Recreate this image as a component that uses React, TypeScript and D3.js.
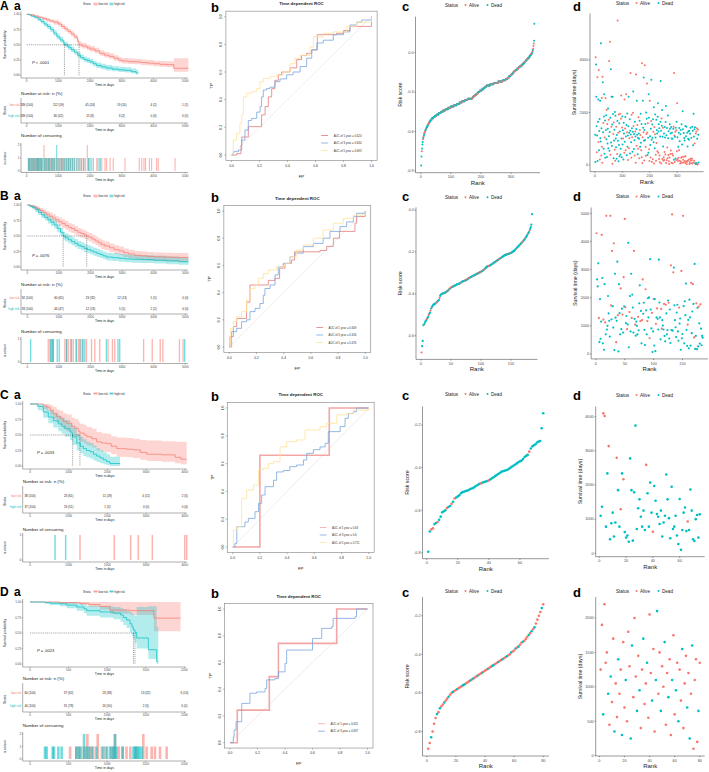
import React from "react";
import * as d3 from "d3";

const RED = "#F8766D";
const TEAL = "#00BFC4";
const FONT = "'Liberation Sans', Arial, Helvetica, sans-serif";

// ================= KM data =================
// Row A
const kmA_low_t = [0,120,250,380,500,620,730,850,1000,1100,1200,1300,1400,1500,1600,1650,1750,1900,2000,2150,2300,2450,2600,2750,2900,3000,3200,3400,3600,3800,4000,4200,4400,4640,5100];
const kmA_low_s = [1,.99,.97,.95,.93,.91,.89,.87,.84,.80,.76,.72,.68,.63,.56,.50,.48,.45,.43,.40,.36,.33,.31,.28,.25,.235,.225,.22,.21,.20,.19,.18,.175,.115,.115];
const kmA_low_lo = [1,.98,.95,.93,.9,.88,.86,.83,.8,.76,.72,.68,.64,.59,.52,.46,.44,.41,.39,.36,.32,.29,.27,.24,.21,.195,.185,.18,.17,.16,.15,.14,.13,.06,.06];
const kmA_low_hi = [1,1,.99,.97,.96,.94,.92,.91,.88,.84,.8,.76,.72,.67,.6,.55,.53,.5,.48,.45,.41,.38,.36,.33,.3,.285,.275,.27,.26,.25,.24,.235,.23,.28,.28];
const kmA_high_t = [0,80,150,250,350,450,550,650,750,850,950,1050,1150,1200,1300,1400,1500,1600,1700,1800,1900,2000,2100,2200,2350,2500,2700,2900,3100,3300,3450,3520];
const kmA_high_s = [1,.99,.97,.95,.92,.88,.84,.80,.75,.69,.63,.58,.53,.50,.46,.42,.38,.33,.29,.26,.24,.22,.19,.16,.14,.12,.10,.09,.08,.06,.04,.04];
const kmA_high_lo = [1,.98,.95,.93,.89,.85,.8,.76,.71,.65,.59,.54,.49,.46,.42,.38,.34,.29,.25,.22,.2,.18,.15,.12,.1,.08,.065,.055,.045,.03,.015,.015];
const kmA_high_hi = [1,1,.99,.97,.95,.92,.88,.84,.79,.74,.68,.63,.58,.55,.51,.47,.43,.38,.34,.31,.29,.27,.24,.21,.19,.17,.15,.14,.13,.11,.09,.09];
const kmA_medians = [1190, 1650];
const kmA_ticks = [0,1000,2000,3000,4000,5000];
const tabA_low = ["189 (100)","112 (59)","45 (24)","19 (10)","4 (2)","1 (1)"];
const tabA_high = ["189 (100)","80 (42)","15 (8)","3 (2)","0 (0)","0 (0)"];
const censA_low = [60,90,130,170,200,240,270,300,330,350,380,420,450,480,545,545,580,620,650,690,720,760,800,840,870,900,950,990,1030,1080,1120,1150,1200,1240,1280,1320,1360,1400,1450,1500,1560,1620,1680,1740,1800,1850,1912,1912,1960,2050,2210,2310,2370,2470,2520,2630,2730,3100,3550,3630,3700,3750,3870,3940,4100,4150,4680];
const censA_high = [50,80,110,150,190,220,260,300,340,370,400,440,470,510,560,600,640,690,730,780,820,870,946,946,990,1050,1100,1150,1200,1260,1320,1380,1440,1500,1580,1650,1720,1800,1950,2000,2100,2250,2320];

// Row B
const kmB_low_t = [0,100,200,300,400,500,600,700,800,900,1000,1100,1200,1300,1400,1500,1600,1700,1800,1880,1950,2050,2150,2250,2350,2450,2600,2750,2900,3050,3200,3400,3600,3800,4000,4300,4600,5100];
const kmB_low_s = [1,.99,.97,.94,.91,.88,.85,.82,.79,.76,.73,.70,.67,.64,.62,.59,.56,.54,.52,.50,.48,.45,.42,.39,.36,.34,.31,.28,.26,.23,.21,.19,.18,.17,.165,.16,.155,.155];
const kmB_low_lo = [1,.97,.94,.9,.87,.83,.8,.76,.73,.7,.66,.63,.6,.57,.55,.52,.49,.47,.45,.43,.41,.38,.35,.32,.29,.27,.24,.21,.19,.16,.14,.12,.11,.1,.095,.09,.085,.085];
const kmB_low_hi = [1,1,.99,.97,.95,.93,.9,.88,.85,.82,.8,.77,.74,.71,.69,.66,.63,.61,.59,.57,.55,.52,.49,.46,.43,.41,.38,.35,.33,.3,.28,.26,.25,.24,.235,.23,.225,.225];
const kmB_high_t = [0,80,160,250,350,450,550,650,750,850,950,1050,1135,1200,1300,1400,1500,1600,1700,1800,1900,2000,2100,2200,2300,2400,2500,2700,2900,3100,3300,3600,4000,4400,4800,5100];
const kmB_high_s = [1,.98,.96,.93,.88,.84,.80,.76,.72,.68,.62,.56,.50,.47,.44,.41,.38,.35,.33,.30,.28,.26,.24,.22,.20,.18,.16,.15,.14,.13,.125,.12,.11,.10,.085,.085];
const kmB_high_lo = [1,.96,.93,.89,.84,.79,.75,.7,.66,.62,.56,.5,.44,.41,.38,.35,.32,.29,.27,.24,.22,.2,.18,.16,.145,.125,.105,.095,.085,.075,.07,.065,.055,.045,.035,.035];
const kmB_high_hi = [1,1,.99,.97,.93,.89,.86,.82,.78,.75,.69,.63,.57,.54,.51,.48,.45,.42,.4,.37,.35,.33,.31,.29,.27,.25,.23,.22,.21,.2,.195,.19,.18,.17,.155,.155];
const kmB_medians = [1135, 1880];
const kmB_ticks = [0,1000,2000,3000,4000,5000];
const tabB_low = ["92 (100)","60 (65)","29 (32)","12 (13)","5 (5)","0 (0)"];
const tabB_high = ["93 (100)","44 (47)","12 (13)","5 (5)","2 (2)","0 (0)"];
const censB_low = [663,716,769,822,1189,1242,1295,1369,1453,1537,1621,1694,1768,1873,2031,2136,2293,2556,2693,2767,3681,3954,4206,4290,4815,4930];
const censB_high = [106,737,790,822,947,1010,1242,1400,1558,1663,1747,1821,2503,2871,2924,4980];

// Row C
const kmC_low_t = [0,350,430,520,600,690,780,860,950,1080,1160,1250,1290,1400,1470,1600,1720,1850,1980,2100,2240,2500,2670,2850,3015,3400,3750,3900,4050];
const kmC_low_s = [1,.97,.95,.90,.85,.80,.77,.72,.69,.64,.61,.56,.53,.50,.47,.44,.39,.37,.36,.32,.28,.27,.26,.22,.19,.18,.14,.11,.11];
const kmC_low_lo = [1,.92,.89,.82,.76,.7,.66,.6,.56,.51,.47,.42,.39,.36,.33,.3,.25,.23,.22,.19,.15,.14,.13,.1,.08,.07,.045,.03,.03];
const kmC_low_hi = [1,1,1,.98,.95,.91,.89,.85,.83,.78,.76,.71,.68,.66,.63,.6,.55,.53,.52,.48,.46,.45,.44,.42,.41,.4,.39,.39,.39];
const kmC_high_t = [0,200,344,473,603,732,820,904,1033,1085,1102,1206,1300,1378,1460,1550,1640,1722,1810,1895,1980,2067,2325];
const kmC_high_s = [1,.96,.87,.79,.73,.68,.64,.60,.55,.52,.47,.37,.32,.28,.25,.23,.19,.16,.13,.10,.07,.04,.04];
const kmC_high_lo = [1,.9,.78,.69,.62,.56,.52,.47,.42,.39,.34,.25,.2,.16,.14,.12,.09,.065,.045,.03,.015,0,0];
const kmC_high_hi = [1,1,.96,.9,.85,.81,.77,.74,.69,.66,.62,.52,.47,.43,.39,.37,.33,.29,.26,.22,.19,.15,.15];
const kmC_medians = [1102, 1290];
const kmC_ticks = [0,1000,2000,3000,4000];
const tabC_low = ["38 (100)","23 (61)","11 (29)","4 (11)","2 (5)"];
const tabC_high = ["37 (100)","19 (51)","1 (3)","0 (0)","0 (0)"];
const censC_low = [1292,2179,2601,2799,3161,4000,4050];
const censC_high = [646,922];

// Row D
const kmD_low_t = [0,390,650,760,907,1036,1300,1606,1950];
const kmD_low_s = [1,.99,.98,.96,.93,.87,.86,.74,.74];
const kmD_low_lo = [1,.97,.95,.92,.88,.81,.79,.53,.53];
const kmD_low_hi = [1,1,1,1,1,1,1,1,1];
const kmD_high_t = [0,194,259,389,475,604,700,734,907,1080,1174,1209,1250,1295,1320,1338,1360,1382,1533,1641,1662];
const kmD_high_s = [1,.99,.98,.97,.95,.92,.89,.86,.84,.82,.79,.75,.71,.65,.60,.55,.51,.42,.23,.04,.04];
const kmD_high_lo = [1,.97,.95,.93,.9,.86,.82,.78,.75,.72,.68,.63,.58,.51,.45,.4,.34,.25,.08,0,0];
const kmD_high_hi = [1,1,1,1,1,.98,.96,.94,.93,.92,.9,.88,.86,.84,.82,.8,.78,.92,.93,.6,.6];
const kmD_medians = [1340, 1360];
const kmD_ticks = [0,500,1000,1500,2000];
const tabD_low = ["60 (100)","37 (62)","23 (38)","13 (22)","6 (10)"];
const tabD_high = ["40 (100)","31 (78)","20 (50)","2 (5)","0 (0)"];
const censD_low = [520,600,640,700,743,743,780,820,877,877,930,980,1040,1080,1101,1101,1150,1200,1250,1300,1370,1468,1468,1511,1576,1619,1684,1770];
const censD_high = [194,216,294,311,367,410,600,630,660,700,700,730,760,800,860,950,1000,1050,1080,1101,1101,1120,1200,1340,1360,1380,1400,1420,1450];

const pTexts = ["< .0001", "= .0076", "= .0033", "= .0023"];

// ================= ROC data =================
const rocA_1 = [[0,0],[.037,.01],[.068,.07],[.073,.13],[.108,.13],[.12,.205],[.2,.205],[.215,.29],[.24,.35],[.263,.42],[.287,.48],[.31,.54],[.334,.58],[.358,.6],[.418,.63],[.466,.69],[.5,.72],[.537,.735],[.573,.76],[.613,.87],[.68,.87],[.75,.88],[.8,.9],[.846,.93],[.96,.93],[1,1]];
const rocA_3 = [[0,0],[.013,.024],[.05,.036],[.073,.108],[.096,.18],[.12,.25],[.144,.265],[.18,.31],[.204,.35],[.215,.42],[.227,.47],[.25,.48],[.275,.49],[.31,.53],[.346,.55],[.394,.58],[.44,.6],[.49,.64],[.537,.7],[.573,.76],[.61,.81],[.656,.83],[.727,.87],[.8,.89],[.846,.94],[.894,.96],[.93,.976],[1,1]];
const rocA_5 = [[0,0],[.013,.108],[.037,.157],[.06,.23],[.073,.29],[.085,.42],[.108,.446],[.144,.458],[.18,.48],[.204,.53],[.227,.554],[.275,.566],[.322,.578],[.37,.6],[.418,.66],[.454,.7],[.49,.72],[.56,.78],[.585,.855],[.656,.88],[.727,.89],[.82,.93],[.894,.96],[1,1]];
const rocB_1 = [[0,0],[.005,.076],[.03,.15],[.054,.21],[.1,.21],[.127,.33],[.152,.456],[.262,.456],[.287,.49],[.336,.505],[.37,.58],[.41,.615],[.458,.64],[.48,.7],[.556,.7],[.667,.71],[.716,.74],[.765,.8],[.81,.85],[.863,.85],[.924,.91],[.936,.96],[1,1]];
const rocB_3 = [[0,0],[.017,.113],[.054,.137],[.09,.186],[.127,.2],[.152,.26],[.189,.284],[.225,.32],[.25,.38],[.262,.43],[.3,.456],[.336,.53],[.36,.59],[.397,.615],[.446,.664],[.483,.69],[.544,.738],[.618,.762],[.69,.8],[.74,.85],[.814,.885],[.863,.92],[.912,.958],[.936,.983],[1,1]];
const rocB_5 = [[0,0],[.01,.137],[.03,.186],[.054,.223],[.09,.26],[.127,.345],[.152,.43],[.189,.456],[.213,.505],[.25,.54],[.287,.566],[.348,.59],[.41,.615],[.446,.664],[.495,.713],[.544,.75],[.618,.8],[.69,.86],[.765,.91],[.838,.946],[.912,.97],[1,1]];
const rocC_1 = [[0,0],[.2,.66],[.71,1],[1,1]];
const rocC_3 = [[0,0],[.017,.026],[.03,.146],[.078,.146],[.09,.18],[.115,.206],[.152,.206],[.164,.254],[.19,.314],[.213,.374],[.238,.434],[.275,.434],[.3,.48],[.323,.54],[.372,.55],[.42,.578],[.47,.59],[.52,.626],[.544,.674],[.593,.7],[.642,.72],[.68,.746],[.703,.83],[.79,.866],[.826,.926],[.85,.96],[.887,.974],[.91,1],[1,1]];
const rocC_5 = [[0,0],[.005,.122],[.03,.146],[.066,.35],[.103,.41],[.127,.41],[.152,.446],[.19,.554],[.225,.566],[.262,.6],[.3,.614],[.348,.72],[.397,.758],[.47,.77],[.532,.842],[.642,.866],[.69,.89],[.765,.95],[.838,.96],[.887,.985],[1,1]];
const rocD_1 = [[0,0],[.053,.244],[.286,.494],[.352,.743],[.776,1],[1,1]];
const rocD_3 = [[0,0],[.024,.045],[.03,.095],[.044,.157],[.073,.157],[.085,.294],[.133,.294],[.145,.37],[.194,.38],[.255,.406],[.267,.47],[.327,.48],[.352,.53],[.388,.53],[.4,.593],[.412,.693],[.594,.693],[.6,.78],[.655,.78],[.667,.855],[.74,.868],[.75,.93],[.91,.943],[.92,1],[1,1]];
const aucA = ["AUC of 1 year = 0.624","AUC of 3 year = 0.634","AUC of 5 year = 0.693"];
const aucB = ["AUC of 1 year = 0.609","AUC of 3 year = 0.616","AUC of 5 year = 0.676"];
const aucC = ["AUC of 1 year = 0.63","AUC of 3 year = 0.6","AUC of 5 year = 0.711"];
const aucD = ["AUC of 1 year = 0.621","AUC of 3 year = 0.637"];
const rocTicks = [0,.2,.4,.6,.8,1];

// ================= Risk score / survival time data =================
const riskA = [-.86,-.79,-.75,-.73,-.70,-.68,-.66,-.65,-.64,-.63,
-.62,-.61,-.61,-.60,-.59,-.59,-.58,-.58,-.57,-.57,
-.56,-.56,-.55,-.55,-.54,-.54,-.54,-.53,-.53,-.52,
-.52,-.52,-.51,-.51,-.51,-.51,-.50,-.50,-.50,-.50,
-.50,-.49,-.49,-.49,-.49,-.49,-.48,-.48,-.48,-.48,
-.48,-.48,-.47,-.47,-.47,-.47,-.47,-.47,-.47,-.46,
-.46,-.46,-.46,-.46,-.46,-.46,-.45,-.45,-.45,-.45,
-.45,-.45,-.45,-.44,-.44,-.44,-.44,-.44,-.44,-.44,
-.44,-.43,-.43,-.43,-.43,-.43,-.43,-.43,-.43,-.43,
-.42,-.42,-.42,-.42,-.42,-.42,-.42,-.42,-.42,-.41,
-.41,-.41,-.41,-.41,-.41,-.41,-.41,-.41,-.41,-.40,
-.40,-.40,-.40,-.40,-.40,-.40,-.40,-.40,-.40,-.39,
-.39,-.39,-.39,-.39,-.39,-.39,-.39,-.39,-.38,-.38,
-.38,-.38,-.38,-.38,-.38,-.38,-.37,-.37,-.37,-.37,
-.37,-.37,-.37,-.37,-.37,-.37,-.36,-.36,-.36,-.36,
-.36,-.36,-.36,-.36,-.36,-.35,-.35,-.35,-.35,-.35,
-.35,-.35,-.35,-.35,-.35,-.35,-.35,-.35,-.35,-.35,
-.35,-.34,-.34,-.34,-.34,-.33,-.33,-.33,-.33,-.33,
-.32,-.32,-.32,-.32,-.32,-.31,-.31,-.31,-.31,-.31,
-.30,-.30,-.30,-.30,-.30,-.29,-.29,-.29,-.29,-.29,
-.29,-.28,-.28,-.28,-.28,-.28,-.28,-.27,-.27,-.27,
-.27,-.27,-.26,-.26,-.26,-.26,-.26,-.26,-.25,-.25,
-.25,-.25,-.25,-.25,-.25,-.25,-.25,-.25,-.25,-.25,
-.24,-.24,-.24,-.24,-.24,-.24,-.24,-.24,-.24,-.24,
-.24,-.24,-.23,-.23,-.23,-.23,-.23,-.23,-.23,-.23,
-.23,-.23,-.23,-.23,-.23,-.23,-.23,-.22,-.22,-.22,
-.22,-.22,-.22,-.22,-.22,-.22,-.22,-.22,-.22,-.22,
-.22,-.22,-.21,-.21,-.21,-.21,-.21,-.21,-.21,-.21,
-.21,-.21,-.20,-.20,-.20,-.20,-.20,-.20,-.19,-.19,
-.19,-.19,-.19,-.18,-.18,-.18,-.18,-.18,-.17,-.17,
-.17,-.17,-.16,-.16,-.16,-.16,-.15,-.15,-.15,-.15,
-.14,-.14,-.14,-.14,-.14,-.13,-.13,-.13,-.13,-.13,
-.12,-.12,-.12,-.12,-.12,-.11,-.11,-.11,-.11,-.11,
-.10,-.10,-.10,-.10,-.10,-.10,-.09,-.09,-.09,-.09,
-.08,-.08,-.08,-.08,-.07,-.07,-.07,-.07,-.06,-.06,
-.06,-.06,-.05,-.05,-.05,-.05,-.04,-.04,-.04,-.04,
-.03,-.03,-.03,-.02,-.02,-.02,-.01,-.01,-.01,.00,
.00,.01,.02,.03,.05,.07,.09,.22];
const timeA = [1150,120,4100,3830,2600,1480,490,1120,3340,150,
1650,2500,880,3620,560,1300,1750,210,2450,1020,
900,4640,360,1400,2550,700,90,3360,3150,1250,
1600,620,1850,2700,430,1050,1700,280,2550,1330,
1900,980,2100,310,1560,820,1380,2150,640,1720,
1100,3960,540,1260,4690,1800,390,3650,860,1460,
2600,720,1540,50,2600,1940,1180,260,1620,930,
1340,580,2020,160,1880,1010,680,1460,240,1140,
420,1680,5500,920,1230,140,1920,760,1590,330,
1280,1950,400,620,1760,2650,1010,300,1430,1850,
780,1320,1010,210,1610,1200,470,2500,890,1390,
1830,560,1090,2700,1520,370,1250,1960,700,1120,
190,1480,2600,640,1230,1020,1740,440,1310,3500,
1160,870,280,1910,1400,1060,510,1270,1990,2800,
1490,610,1180,940,360,1650,1280,1090,90,3450,
1370,730,2450,1150,1520,410,1040,620,1820,1200,
1000,260,1690,1330,700,1140,1950,850,560,1560,
300,3880,80,1060,2450,1420,1250,3330,920,170,
1330,3800,950,1560,690,350,2000,1180,1760,3100,
1240,380,1590,1040,470,2700,1800,600,150,2450,
1100,760,290,1380,1680,3250,960,120,1540,1040,
220,1740,1270,870,2200,60,1450,640,1170,1920,
1050,390,160,1720,840,1330,1200,520,1840,2350,
470,1280,1550,230,1400,360,110,1090,1650,3200,
1310,60,1770,1500,2100,230,1080,1420,710,160,
300,1200,190,500,1450,1050,400,1640,2250,80,
1130,180,1410,670,260,1890,1020,380,1290,140,
40,290,1550,1380,420,1200,550,1450,90,1010,
1230,430,1000,70,360,1380,1460,200,3500,1120,
120,1080,1270,250,1420,190,1320,1650,520,2350,
1060,230,150,700,280,1230,560,1410,910,160,
60,1170,1330,120,280,1550,90,780,320,2050,
1360,200,100,1220,320,1030,930,150,80,1490,
330,1100,140,1460,30,120,1230,710,160,1000,
1280,200,960,1310,40,120,1190,240,1420,180,
70,1040,180,250,1460,60,1310,750,100,1950,
1090,160,1360,820,1440,60,90,1200,30,1280,
70,1400,1000,40,20,1350,1150,100];
const statusA = ("DDADDDADAD DDAADDDADD DDADAAAADD ADDDDADDAD DDADADDDDA DADDADADDA DDDADDADAD DADADDDADD ADADADADDD DADDAADDAD " +
"DDADDDAADA DADADDADDD ADDADADDDA DDAADADDAD ADDDADADAA DADDADDAAD DADADADDAD AAAADDADDA DADDAADADA ADADDDDAAA " +
"DDADADDADD ADADDAADAD DAADADDADD ADDADAADDD DAADDADADA ADAADDADDA DADAADDADA AADDADADAD DADAADADAA ADADDAADAA " +
"DAADADADDA ADDAADADAD DAADADDAAD ADADAADDAD DADDAADADA ADAADADDAD DADADDAADA DADAAADD").replace(/ /g, "");

const riskB = [-.68,-.65,-.625,-.55,-.547,-.543,-.535,-.53,-.525,-.52,
-.515,-.51,-.5,-.495,-.49,-.48,-.47,-.465,-.46,-.455,
-.452,-.45,-.448,-.446,-.444,-.441,-.438,-.435,-.432,-.43,
-.42,-.41,-.405,-.402,-.4,-.399,-.398,-.397,-.396,-.395,
-.393,-.391,-.389,-.387,-.385,-.382,-.379,-.376,-.373,-.37,
-.369,-.367,-.366,-.364,-.363,-.361,-.36,-.358,-.357,-.355,
-.354,-.353,-.352,-.351,-.35,-.348,-.346,-.344,-.342,-.34,
-.339,-.338,-.337,-.336,-.335,-.333,-.331,-.329,-.327,-.325,
-.324,-.322,-.32,-.319,-.317,-.316,-.314,-.313,-.311,-.31,
-.308,-.307,-.305,-.304,-.302,-.301,-.299,-.298,-.296,-.295,
-.293,-.291,-.289,-.287,-.285,-.282,-.279,-.276,-.273,-.27,
-.269,-.268,-.267,-.266,-.265,-.263,-.261,-.259,-.257,-.255,
-.253,-.251,-.249,-.247,-.245,-.243,-.241,-.239,-.237,-.235,
-.233,-.231,-.229,-.227,-.225,-.223,-.221,-.219,-.217,-.215,
-.214,-.213,-.212,-.211,-.21,-.209,-.208,-.207,-.206,-.205,
-.203,-.201,-.199,-.197,-.195,-.192,-.189,-.186,-.183,-.18,
-.177,-.174,-.171,-.168,-.165,-.162,-.159,-.156,-.153,-.15,
-.146,-.142,-.138,-.134,-.13,-.125,-.12,-.115,-.11,-.105,
-.098,-.09,-.082,-.07,-.02];
const timeB = [4290,2650,2400,3220,1280,430,1950,540,1150,4230,
2700,380,1220,150,2480,1120,700,4910,870,1000,
2060,1440,1180,620,4910,1730,1230,3660,1700,940,
3930,140,2850,1290,420,1180,3280,1380,90,2480,
1450,700,2330,880,1610,1400,760,2730,1690,4800,
1660,1100,1350,880,1050,3950,240,1490,2060,800,
2850,1280,2110,1650,760,3660,1250,1040,650,1150,
1000,700,1320,840,1800,2440,1170,1530,380,1200,
2650,1430,1820,860,320,2300,1550,700,1170,1980,
1300,2010,560,3370,1580,910,1460,70,800,1950,
300,1950,100,1070,1300,1620,1250,870,3350,1830,
1300,520,1600,900,1200,1010,870,1780,640,450,
1750,1440,700,850,1900,1820,550,1580,390,3150,
850,4960,830,2900,3070,1730,1200,950,600,1470,
1750,800,470,1650,1080,1260,150,2950,560,710,
4910,1700,380,1870,1380,2500,860,290,1040,1210,
200,1930,1300,300,2530,740,1510,2480,1780,590,
3200,180,640,1800,170,1640,270,1680,1090,370,
1760,900,310,640,580];
const statusB = ("ADDDADDDDA DDADDADADD DDDDAADADD ADDDADDADD DDADDADADA ADDADDDADD DADDDADADD DDADDDADDA ADDDDADDAD DDADDDADDA " +
"DDDADADDDD DDAADDDADD ADDDDADDDA DADADDDDDD DDDADDDADD ADDDDDDDAD DDDDADDADA DDDADDDADD ADDDD").replace(/ /g, "");

const riskC = [-.795,-.70,-.69,-.685,-.665,-.66,-.655,-.645,-.63,-.61,
-.605,-.60,-.59,-.585,-.58,-.57,-.56,-.545,-.54,-.535,
-.53,-.52,-.515,-.513,-.51,-.508,-.505,-.50,-.498,-.495,
-.49,-.485,-.48,-.476,-.474,-.47,-.468,-.465,-.463,-.46,
-.455,-.45,-.445,-.44,-.435,-.43,-.425,-.42,-.417,-.415,
-.412,-.41,-.405,-.40,-.395,-.39,-.385,-.38,-.375,-.37,
-.367,-.36,-.35,-.345,-.34,-.325,-.31,-.30,-.295,-.29,
-.282,-.278,-.275,-.215,-.145];
const timeC = [1100,1365,4100,4020,780,2340,3140,410,880,1190,
490,900,2800,1850,780,1290,2340,2170,620,460,
520,340,2780,1850,370,1790,3740,710,1320,1580,
1070,780,1250,680,2590,1760,780,2070,1190,630,
1970,1540,1150,1070,860,1250,490,900,1100,2310,
1580,1030,440,1950,710,780,1100,520,270,1590,
100,680,1190,1340,650,930,680,1870,1250,410,
360,1000,1120,460,1140];
const statusC = ("DDAADDADDD DDADDADADD DDDDDDDDDD DDDDADDDDA DDDDDDDDDD DDDDDDDDDD DDDDDADDDD DDDDD").replace(/ /g, "");

const riskD = [-.89,-.86,-.83,-.80,-.76,-.73,-.71,-.70,-.68,-.67,
-.66,-.65,-.64,-.63,-.62,-.61,-.60,-.595,-.59,-.585,
-.58,-.575,-.57,-.565,-.56,-.555,-.55,-.545,-.54,-.535,
-.53,-.525,-.52,-.515,-.51,-.505,-.50,-.495,-.49,-.485,
-.48,-.475,-.47,-.465,-.46,-.455,-.45,-.445,-.44,-.435,
-.43,-.425,-.42,-.415,-.41,-.405,-.40,-.39,-.385,-.38,
-.37,-.365,-.36,-.35,-.34,-.335,-.33,-.32,-.31,-.30,
-.29,-.28,-.27,-.26,-.24,-.22,-.20,-.18,-.16,-.14];
const timeD = [1250,1900,600,2200,1350,1500,900,450,1150,780,
1700,350,1050,560,1400,900,1250,300,1650,700,
1100,500,1800,1300,250,1600,850,2000,1150,650,
1450,950,400,1250,1700,750,1050,1350,550,2050,
1200,800,1550,350,1100,2100,900,1500,650,1300,
1000,1650,450,1200,850,1400,300,1100,1750,600,
950,1350,500,1250,800,1550,400,1050,1450,700,
1200,250,900,1600,100,1100,1400,200,650,1350];
const statusD = ("AADAAADADA ADAADAADAA DAAADDAAAD ADAADAADAA ADAADDAADA ADAADAADAA DADAADAAAD ADADAAAADA").replace(/ /g, "");

const riskTicksA = [0, -0.3, -0.6, -0.9];
const riskTicksB = [0, -0.2, -0.4, -0.6];
const riskTicksC = [-0.2, -0.4, -0.6, -0.8];
const riskTicksD = [-0.2, -0.4, -0.6, -0.8];
const rankTicksA = [0, 100, 200, 300];
const rankTicksB = [0, 50, 100, 150];
const rankTicksC = [0, 20, 40, 60];
const rankTicksD = [0, 20, 40, 60, 80];
const timeTicksA = [0, 2000, 4000];
const timeTicksB = [0, 1000, 2000, 3000, 4000, 5000];
const timeTicksC = [0, 1000, 2000, 3000, 4000];
const timeTicksD = [0, 500, 1000, 1500, 2000];

// ================= Layouts =================
const kmLayouts = [
  { tStep: 1000, x0: 26.7, pxStep: 31.7, left: 21, right: 188, y1: 14.3, y0: 75.3, axisY: 78, legendY: 4, pX: 32, pY: 64, tabTitle: 95, low: 105, high: 116, tabAxis: 123, censTitle: 137, cTop: 145, c0: 171, censAxis: 172.5, cMax: 2, bw: 1.1 },
  { tStep: 1000, x0: 27.3, pxStep: 31.6, left: 21, right: 188, y1: 205, y0: 267, axisY: 270, legendY: 196, pX: 32, pY: 256.5, tabTitle: 286, low: 298, high: 309, tabAxis: 314, censTitle: 333, cTop: 339, c0: 362, censAxis: 363.5, cMax: 1, bw: 1.3 },
  { tStep: 1000, x0: 30, pxStep: 38.7, left: 22.7, right: 187, y1: 404, y0: 466, axisY: 469, legendY: 393.5, pX: 37, pY: 453.5, tabTitle: 483, low: 496, high: 507, tabAxis: 513, censTitle: 531, cTop: 535, c0: 560, censAxis: 562, cMax: 1, bw: 1.5 },
  { tStep: 500, x0: 30, pxStep: 38.6, left: 22.7, right: 186, y1: 602, y0: 664, axisY: 667, legendY: 591.5, pX: 37, pY: 651.5, tabTitle: 680, low: 693, high: 706, tabAxis: 712, censTitle: 727, cTop: 734, c0: 759, censAxis: 761, cMax: 2, bw: 2.6 },
];
const rocLayouts = [
  { x0: 231.5, W: 140, y0: 155, H: 138.3 },
  { x0: 229.3, W: 136, y0: 347, H: 136 },
  { x0: 232.7, W: 136, y0: 547, H: 139 },
  { x0: 230, W: 137.5, y0: 742.7, H: 133.7 },
];
const cLayouts = [
  { left: 415.5, right: 540, top: 16.7, bottom: 172.7, leg: 6.5, r: 1.0 },
  { left: 416, right: 537.5, top: 207.3, bottom: 359.4, leg: 198.8, r: 1.1 },
  { left: 422.5, right: 549, top: 406.4, bottom: 558.7, leg: 395.5, r: 1.3 },
  { left: 422.5, right: 549, top: 597, bottom: 756, leg: 592.5, r: 1.3 },
];
const dLayouts = [
  { left: 590, right: 703.7, top: 13.4, bottom: 171.7, leg: 4.5, r: 1.0 },
  { left: 591.2, right: 708, top: 207.5, bottom: 358.9, leg: 198, r: 1.1 },
  { left: 595.7, right: 704.7, top: 406.5, bottom: 556.7, leg: 396.5, r: 1.3 },
  { left: 595.7, right: 704.7, top: 597, bottom: 756, leg: 592.5, r: 1.3 },
];
const letterBase = [12, 202, 401, 598];

// ================= Components =================
function KMPanel({ L, d }: any) {
  const x = d3.scaleLinear().domain([0, L.tStep]).range([L.x0, L.x0 + L.pxStep]);
  const y = d3.scaleLinear().domain([0, 1]).range([L.y0, L.y1]);
  const line = (t: number[], s: number[]) =>
    d3.line<number>().x((_, i) => x(t[i])).y((v) => y(v)).curve(d3.curveStepAfter)(s) || "";
  const area = (t: number[], lo: number[], hi: number[]) =>
    d3.area<number>().x((_, i) => x(t[i])).y0((_, i) => y(lo[i])).y1((_, i) => y(hi[i])).curve(d3.curveStepAfter)(lo) || "";
  const yc = d3.scaleLinear().domain([0, L.cMax]).range([L.c0, L.cTop]);
  const cLow = Array.from(d3.rollup(d.censLow, (v: number[]) => v.length, (t: number) => t));
  const cHigh = Array.from(d3.rollup(d.censHigh, (v: number[]) => v.length, (t: number) => t));
  const midX = (L.left + L.right) / 2;
  const fs = 3;
  const gray = "#4D4D4D";
  const xAxis = (ay: number) => (
    <g>
      <line x1={L.left} x2={L.right} y1={ay} y2={ay} stroke="#333" strokeWidth={0.4} />
      {d.ticks.map((t: number) => (
        <g key={t}>
          <line x1={x(t)} x2={x(t)} y1={ay} y2={ay + 1} stroke="#333" strokeWidth={0.4} />
          <text x={x(t)} y={ay + 4.3} fontSize={fs} textAnchor="middle" fill={gray}>{t}</text>
        </g>
      ))}
      <text x={midX} y={ay + 8.3} fontSize={3.4} textAnchor="middle" fill="#222">Time in days</text>
    </g>
  );
  const medMax = d3.max(d.medians as number[]) as number;
  return (
    <g fontFamily={FONT}>
      <text x={83} y={L.legendY + 1} fontSize={2.8} fill="#222">Strata</text>
      <rect x={93.5} y={L.legendY - 1.6} width={4} height={3.2} fill={RED} fillOpacity={0.3} />
      <line x1={93.5} x2={97.5} y1={L.legendY} y2={L.legendY} stroke={RED} strokeWidth={0.6} />
      <text x={98.5} y={L.legendY + 1} fontSize={2.8} fill="#222">low risk</text>
      <rect x={109.5} y={L.legendY - 1.6} width={4} height={3.2} fill={TEAL} fillOpacity={0.3} />
      <line x1={109.5} x2={113.5} y1={L.legendY} y2={L.legendY} stroke={TEAL} strokeWidth={0.6} />
      <text x={114.5} y={L.legendY + 1} fontSize={2.8} fill="#222">high risk</text>
      <path d={area(d.lowT, d.lowLo, d.lowHi)} fill={RED} fillOpacity={0.3} />
      <path d={area(d.highT, d.highLo, d.highHi)} fill={TEAL} fillOpacity={0.3} />
      <path d={line(d.lowT, d.lowS)} fill="none" stroke={RED} strokeWidth={0.7} />
      <path d={line(d.highT, d.highS)} fill="none" stroke={TEAL} strokeWidth={0.7} />
      <line x1={x(0)} x2={x(medMax)} y1={y(0.5)} y2={y(0.5)} stroke="#222" strokeWidth={0.4} strokeDasharray="1.2,0.9" />
      {d.medians.map((m: number) => (
        <line key={m} x1={x(m)} x2={x(m)} y1={y(0.5)} y2={y(0)} stroke="#222" strokeWidth={0.4} strokeDasharray="1.2,0.9" />
      ))}
      <line x1={L.left} x2={L.left} y1={L.y1 - 3} y2={L.axisY} stroke="#333" strokeWidth={0.4} />
      {[0, 0.25, 0.5, 0.75, 1].map((v) => (
        <g key={v}>
          <line x1={L.left - 1} x2={L.left} y1={y(v)} y2={y(v)} stroke="#333" strokeWidth={0.4} />
          <text x={L.left - 1.5} y={y(v) + 1} fontSize={fs} textAnchor="end" fill={gray}>{v.toFixed(2)}</text>
        </g>
      ))}
      <text transform={`translate(6,${(L.y0 + L.y1) / 2}) rotate(-90)`} fontSize={3.4} textAnchor="middle" fill="#222">Survival probability</text>
      {xAxis(L.axisY)}
      <text x={L.pX} y={L.pY} fontSize={4} fill="#222"><tspan fontStyle="italic">P</tspan> {d.pText}</text>
      <text x={L.left} y={L.tabTitle} fontSize={4.4} fill="#222">Number at risk: n (%)</text>
      <line x1={L.left} x2={L.left} y1={L.tabTitle + 3} y2={L.tabAxis} stroke="#333" strokeWidth={0.4} />
      {d.ticks.map((t: number, i: number) => (
        <g key={"tab" + t}>
          <text x={x(t)} y={L.low + 1} fontSize={fs} textAnchor="middle" fill="#222">{d.tabLow[i]}</text>
          <text x={x(t)} y={L.high + 1} fontSize={fs} textAnchor="middle" fill="#222">{d.tabHigh[i]}</text>
        </g>
      ))}
      <text x={L.left - 1.5} y={L.low + 1} fontSize={fs} textAnchor="end" fill={RED}>low risk</text>
      <text x={L.left - 1.5} y={L.high + 1} fontSize={fs} textAnchor="end" fill={TEAL}>high risk</text>
      <text transform={`translate(6,${(L.low + L.high) / 2}) rotate(-90)`} fontSize={3.4} textAnchor="middle" fill="#222">Strata</text>
      {xAxis(L.tabAxis)}
      <text x={L.left} y={L.censTitle} fontSize={4.4} fill="#222">Number of censoring</text>
      {cLow.map(([t, n]) => (
        <rect key={"cl" + t} x={x(t) - L.bw / 2} y={yc(n)} width={L.bw} height={yc(0) - yc(n)} fill={RED} fillOpacity={0.55} />
      ))}
      {cHigh.map(([t, n]) => (
        <rect key={"ch" + t} x={x(t) - L.bw / 2} y={yc(n)} width={L.bw} height={yc(0) - yc(n)} fill={TEAL} fillOpacity={0.55} />
      ))}
      <line x1={L.left} x2={L.left} y1={L.cTop - 2} y2={L.censAxis} stroke="#333" strokeWidth={0.4} />
      {d3.range(0, L.cMax + 1).map((v) => (
        <g key={"cy" + v}>
          <line x1={L.left - 1} x2={L.left} y1={yc(v)} y2={yc(v)} stroke="#333" strokeWidth={0.4} />
          <text x={L.left - 1.5} y={yc(v) + 1} fontSize={fs} textAnchor="end" fill={gray}>{v}</text>
        </g>
      ))}
      <text transform={`translate(6,${(L.c0 + L.cTop) / 2}) rotate(-90)`} fontSize={3.4} textAnchor="middle" fill="#222">n.censor</text>
      {xAxis(L.censAxis)}
    </g>
  );
}

function ROCPanel({ L, curves, labels }: any) {
  const x = d3.scaleLinear().domain([0, 1]).range([L.x0, L.x0 + L.W]);
  const y = d3.scaleLinear().domain([0, 1]).range([L.y0, L.y0 - L.H]);
  const bx0 = x(-0.04), bx1 = x(1.04), by0 = y(-0.04), by1 = y(1.04);
  const line = d3.line<number[]>().x((p) => x(p[0])).y((p) => y(p[1])).curve(d3.curveStepAfter);
  const cols = curves.map((c: any) => c.color);
  const nL = labels.length;
  return (
    <g fontFamily={FONT}>
      <text x={(bx0 + bx1) / 2} y={by1 - 6} fontSize={4.4} fontWeight="bold" textAnchor="middle" fill="#222">Time dependent ROC</text>
      <line x1={x(0)} y1={y(0)} x2={x(1)} y2={y(1)} stroke="#D9D9D9" strokeWidth={0.5} />
      {curves.map((c: any, i: number) => (
        <path key={i} d={line(c.pts) || ""} fill="none" stroke={c.color} strokeWidth={c.w} />
      ))}
      <rect x={bx0} y={by1} width={bx1 - bx0} height={by0 - by1} fill="none" stroke="#808080" strokeWidth={0.6} />
      {rocTicks.map((t) => (
        <g key={t}>
          <line x1={x(t)} x2={x(t)} y1={by0} y2={by0 + 1.6} stroke="#555" strokeWidth={0.4} />
          <text x={x(t)} y={by0 + 6.3} fontSize={3.4} textAnchor="middle" fill="#333">{t.toFixed(1)}</text>
          <line x1={bx0 - 1.6} x2={bx0} y1={y(t)} y2={y(t)} stroke="#555" strokeWidth={0.4} />
          <text transform={`translate(${bx0 - 3.5},${y(t)}) rotate(-90)`} fontSize={3.4} textAnchor="middle" fill="#333">{t.toFixed(1)}</text>
        </g>
      ))}
      <text x={(bx0 + bx1) / 2} y={y(0) + 22.5} fontSize={4.4} textAnchor="middle" fill="#222">FP</text>
      <text transform={`translate(${bx0 - 13},${y(0.5)}) rotate(-90)`} fontSize={4.4} textAnchor="middle" fill="#222">TP</text>
      {labels.map((lab: string, i: number) => {
        const yy = y(0) - 4.5 - (nL - 1 - i) * 7.5 - (nL === 2 ? 7 : 0);
        return (
          <g key={lab}>
            <line x1={x(0.64)} x2={x(0.69)} y1={yy} y2={yy} stroke={cols[i]} strokeWidth={0.8} />
            <text x={x(0.73)} y={yy + 1} fontSize={2.8} fill="#333">{lab}</text>
          </g>
        );
      })}
    </g>
  );
}

function ScatterPanel({ L, vals, status, yTicks, xTicks, yLabel, fmt }: any) {
  const n = vals.length;
  const ranks = d3.range(1, n + 1);
  const [ymin, ymax] = d3.extent(vals as number[]) as [number, number];
  const ye = (ymax - ymin) * 0.05;
  const xe = (n - 1) * 0.05;
  const x = d3.scaleLinear().domain([1 - xe, n + xe]).range([L.left, L.right]);
  const y = d3.scaleLinear().domain([ymin - ye, ymax + ye]).range([L.bottom, L.top]);
  const gray = "#4D4D4D";
  return (
    <g fontFamily={FONT}>
      {ranks.map((r, i) => (
        <circle key={i} cx={x(r)} cy={y(vals[i])} r={L.r} fill={status[i] === "A" ? RED : TEAL} />
      ))}
      <line x1={L.left} x2={L.left} y1={L.top} y2={L.bottom} stroke="#333" strokeWidth={0.5} />
      <line x1={L.left} x2={L.right} y1={L.bottom} y2={L.bottom} stroke="#333" strokeWidth={0.5} />
      {yTicks.map((t: number) => (
        <g key={t}>
          <line x1={L.left - 1.2} x2={L.left} y1={y(t)} y2={y(t)} stroke="#333" strokeWidth={0.5} />
          <text x={L.left - 2} y={y(t) + 1.3} fontSize={3.8} textAnchor="end" fill={gray}>{fmt(t)}</text>
        </g>
      ))}
      {xTicks.map((t: number) => (
        <g key={t}>
          <line x1={x(t)} x2={x(t)} y1={L.bottom} y2={L.bottom + 1.2} stroke="#333" strokeWidth={0.5} />
          <text x={x(t)} y={L.bottom + 5.6} fontSize={3.8} textAnchor="middle" fill={gray}>{t}</text>
        </g>
      ))}
      <text x={(L.left + L.right) / 2} y={L.bottom + 12} fontSize={6} textAnchor="middle" fill="#222">Rank</text>
      <text transform={`translate(${L.left - 14},${(L.top + L.bottom) / 2}) rotate(-90)`} fontSize={5.2} textAnchor="middle" fill="#222">{yLabel}</text>
    </g>
  );
}

function StatusLegend({ x0, y }: any) {
  return (
    <g fontFamily={FONT} fontSize={4.6} fill="#222">
      <text x={x0} y={y}>Status</text>
      <circle cx={x0 + 20.5} cy={y - 1.5} r={1} fill={RED} />
      <text x={x0 + 24} y={y}>Alive</text>
      <circle cx={x0 + 42.5} cy={y - 1.5} r={1} fill={TEAL} />
      <text x={x0 + 46} y={y}>Dead</text>
    </g>
  );
}

export default function App() {
  const kmData = [
    { lowT: kmA_low_t, lowS: kmA_low_s, lowLo: kmA_low_lo, lowHi: kmA_low_hi, highT: kmA_high_t, highS: kmA_high_s, highLo: kmA_high_lo, highHi: kmA_high_hi, medians: kmA_medians, ticks: kmA_ticks, tabLow: tabA_low, tabHigh: tabA_high, censLow: censA_low, censHigh: censA_high, pText: pTexts[0] },
    { lowT: kmB_low_t, lowS: kmB_low_s, lowLo: kmB_low_lo, lowHi: kmB_low_hi, highT: kmB_high_t, highS: kmB_high_s, highLo: kmB_high_lo, highHi: kmB_high_hi, medians: kmB_medians, ticks: kmB_ticks, tabLow: tabB_low, tabHigh: tabB_high, censLow: censB_low, censHigh: censB_high, pText: pTexts[1] },
    { lowT: kmC_low_t, lowS: kmC_low_s, lowLo: kmC_low_lo, lowHi: kmC_low_hi, highT: kmC_high_t, highS: kmC_high_s, highLo: kmC_high_lo, highHi: kmC_high_hi, medians: kmC_medians, ticks: kmC_ticks, tabLow: tabC_low, tabHigh: tabC_high, censLow: censC_low, censHigh: censC_high, pText: pTexts[2] },
    { lowT: kmD_low_t, lowS: kmD_low_s, lowLo: kmD_low_lo, lowHi: kmD_low_hi, highT: kmD_high_t, highS: kmD_high_s, highLo: kmD_high_lo, highHi: kmD_high_hi, medians: kmD_medians, ticks: kmD_ticks, tabLow: tabD_low, tabHigh: tabD_high, censLow: censD_low, censHigh: censD_high, pText: pTexts[3] },
  ];
  const R1 = "#E57A7A", B3 = "#78A6DE", Y5 = "#FFE29A", R1c = "#F4A5A5";
  const rocData = [
    { curves: [{ pts: rocA_1, color: R1, w: 0.8 }, { pts: rocA_3, color: B3, w: 0.8 }, { pts: rocA_5, color: Y5, w: 0.8 }], labels: aucA },
    { curves: [{ pts: rocB_1, color: R1, w: 0.8 }, { pts: rocB_3, color: B3, w: 0.8 }, { pts: rocB_5, color: Y5, w: 0.8 }], labels: aucB },
    { curves: [{ pts: rocC_1, color: R1c, w: 1.6 }, { pts: rocC_3, color: B3, w: 0.8 }, { pts: rocC_5, color: Y5, w: 0.8 }], labels: aucC },
    { curves: [{ pts: rocD_1, color: R1c, w: 1.6 }, { pts: rocD_3, color: B3, w: 0.8 }], labels: aucD },
  ];
  const scat = [
    { risk: riskA, time: timeA, st: statusA, rt: riskTicksA, xt: rankTicksA, tt: timeTicksA },
    { risk: riskB, time: timeB, st: statusB, rt: riskTicksB, xt: rankTicksB, tt: timeTicksB },
    { risk: riskC, time: timeC, st: statusC, rt: riskTicksC, xt: rankTicksC, tt: timeTicksC },
    { risk: riskD, time: timeD, st: statusD, rt: riskTicksD, xt: rankTicksD, tt: timeTicksD },
  ];
  const letters = ["A", "B", "C", "D"];
  return (
    <svg width={709} height={772} style={{ position: "absolute", left: 0, top: 0, background: "#fff" }}>
      <rect width={709} height={772} fill="#fff" />
      {letters.map((Lt, i) => (
        <g key={Lt} fontFamily={FONT} fontWeight="bold" fill="#000">
          <text x={0} y={letterBase[i] - 2} fontSize={12}>{Lt}</text>
          <text x={14} y={letterBase[i] - 2} fontSize={12}>a</text>
          <text x={211} y={letterBase[i]} fontSize={13}>b</text>
          <text x={402} y={letterBase[i] - 1} fontSize={13}>c</text>
          <text x={573} y={letterBase[i] - 1} fontSize={13}>d</text>
        </g>
      ))}
      {kmData.map((d, i) => <KMPanel key={"km" + i} L={kmLayouts[i]} d={d} />)}
      {rocData.map((d, i) => <ROCPanel key={"roc" + i} L={rocLayouts[i]} curves={d.curves} labels={d.labels} />)}
      {scat.map((s, i) => (
        <g key={"sc" + i}>
          <ScatterPanel L={cLayouts[i]} vals={s.risk} status={s.st} yTicks={s.rt} xTicks={s.xt} yLabel="Risk score" fmt={(t: number) => t.toFixed(1)} />
          <StatusLegend x0={445} y={cLayouts[i].leg} />
          <ScatterPanel L={dLayouts[i]} vals={s.time} status={s.st} yTicks={s.tt} xTicks={s.xt} yLabel="Survival time (days)" fmt={(t: number) => String(t)} />
          <StatusLegend x0={616} y={dLayouts[i].leg} />
        </g>
      ))}
    </svg>
  );
}
